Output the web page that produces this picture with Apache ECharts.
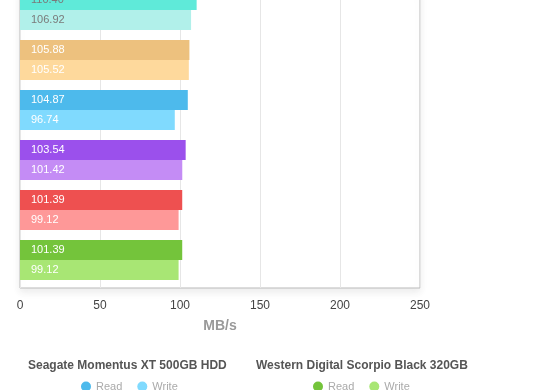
<!DOCTYPE html>
<html>
<head>
<meta charset="utf-8">
<script src="https://cdn.jsdelivr.net/npm/echarts@6/dist/echarts.min.js"></script>
<style>
html,body{margin:0;padding:0;background:#fff;overflow:hidden;}
#chart{position:absolute;left:0;top:-12px;width:560px;height:402px;}
</style>
</head>
<body>
<div id="chart"></div>
<script>
// ---- data ----
var categories = ['Drive 1', 'Drive 2', 'Seagate Momentus XT 500GB HDD', 'Drive 4', 'Drive 5', 'Western Digital Scorpio Black 320GB'];
var readValues = [110.40, 105.88, 104.87, 103.54, 101.39, 101.39];
var writeValues = [106.92, 105.52, 96.74, 101.42, 99.12, 99.12];
var xTicks = [0, 50, 100, 150, 200, 250];
var legendGroups = ['Seagate Momentus XT 500GB HDD', 'Western Digital Scorpio Black 320GB'];
var seriesKinds = ['Read', 'Write'];

// ---- styles ----
var readColors = ['#5fead9', '#edc17e', '#4dbaec', '#9b50ec', '#ee5050', '#74c43b'];
var writeColors = ['#b1f0ea', '#fed99c', '#80dafe', '#c48cf5', '#fe9898', '#a8e674'];
var labelColors = ['#7a7a7a', '#ffffff', '#ffffff', '#ffffff', '#ffffff', '#ffffff'];
var FONT = '"Liberation Sans", Arial, Helvetica, sans-serif';
var Y_SHIFT = 12; // the chart is drawn 12px above the window top

function onlyAt(arr, i) {
  return arr.map(function (v, j) { return j === i ? v : '-'; });
}

var series = [];
categories.forEach(function (cat, i) {
  [[readValues, readColors, 'read', 0], [writeValues, writeColors, 'write', 1]].forEach(function (s) {
    series.push({
      type: 'bar',
      name: cat + '|' + seriesKinds[s[3]],
      stack: s[2],
      barWidth: 20,
      barGap: '0%',
      data: onlyAt(s[0], i),
      itemStyle: { color: s[1][i] },
      label: {
        show: true,
        position: 'insideLeft',
        distance: 11,
        color: labelColors[i],
        fontFamily: FONT,
        fontSize: 11,
        formatter: function (p) { return Number(p.value).toFixed(2); }
      },
      emphasis: { disabled: true },
      animation: false
    });
  });
});
// spacer to reproduce the bar placement inside each band
series.push({
  type: 'bar', name: 'spacer', stack: 'spacer', barWidth: 6, barGap: '0%',
  data: categories.map(function () { return 0; }),
  itemStyle: { color: 'rgba(0,0,0,0)' }, silent: true, animation: false
});

var legends = legendGroups.map(function (g, k) {
  return {
    data: seriesKinds.map(function (s) { return g + '|' + s; }),
    left: k === 0 ? 81 : 313,
    top: 381 + Y_SHIFT,
    padding: 0,
    icon: 'circle',
    itemWidth: 10,
    itemHeight: 10,
    itemGap: 15,
    selectedMode: false,
    textStyle: { color: '#aaaaaa', fontSize: 11, fontFamily: FONT },
    formatter: function (name) { return name.split('|')[1]; }
  };
});

var titles = legendGroups.map(function (g, k) {
  return {
    text: g,
    left: k === 0 ? 28 : 256,
    top: 360 + Y_SHIFT,
    padding: 0,
    textStyle: { color: '#555555', fontSize: 12, fontWeight: 'bold', fontFamily: FONT }
  };
});

var chart = echarts.init(document.getElementById('chart'), null, { renderer: 'canvas' });
chart.setOption({
  animation: false,
  backgroundColor: '#ffffff',
  title: titles,
  legend: legends,
  grid: {
    left: 20, right: 140, top: 0, bottom: 102,
    show: true, borderColor: '#bbbbbb', borderWidth: 1, backgroundColor: '#ffffff',
    shadowColor: 'rgba(0,0,0,0.08)', shadowBlur: 8, shadowOffsetY: 4,
    containLabel: false
  },
  xAxis: {
    type: 'value',
    min: xTicks[0], max: xTicks[xTicks.length - 1], interval: xTicks[1] - xTicks[0],
    name: 'MB/s', nameLocation: 'middle', nameGap: 31,
    nameTextStyle: { color: '#999999', fontSize: 14, fontWeight: 'bold', fontFamily: FONT },
    axisLine: { show: false },
    axisTick: { show: false },
    axisLabel: { color: '#444444', fontSize: 12, margin: 12, fontFamily: FONT },
    splitLine: { show: true, lineStyle: { color: '#e6e6e6', width: 1 } }
  },
  yAxis: {
    type: 'category',
    data: categories,
    inverse: true,
    axisLine: { show: false },
    axisTick: { show: false },
    axisLabel: { show: false },
    splitLine: { show: false }
  },
  series: series
});
</script>
</body>
</html>
